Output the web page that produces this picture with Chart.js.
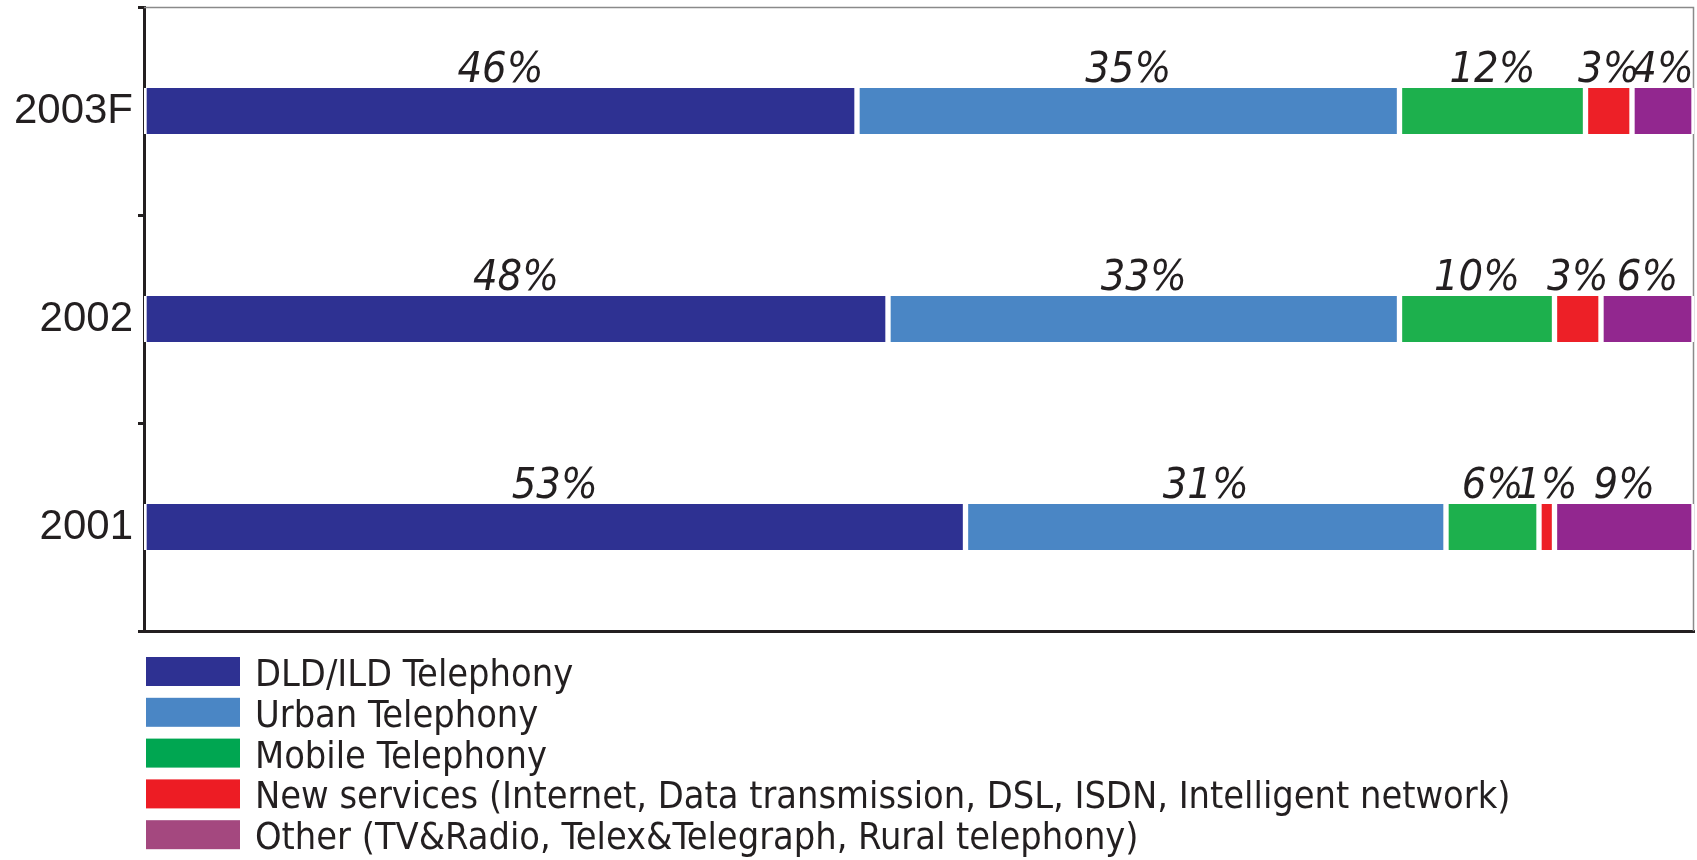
<!DOCTYPE html>
<html>
<head>
<meta charset="utf-8">
<script src="https://cdn.jsdelivr.net/npm/chart.js@4.4.0/dist/chart.umd.min.js"></script>
<style>
  html, body { margin: 0; padding: 0; background: #fff; }
  #wrap { width: 1697px; height: 860px; }
</style>
</head>
<body>
<div id="wrap"><canvas id="c" width="1697" height="860"></canvas></div>
<script>
const categories = ['2003F', '2002', '2001'];
const seriesNames = [
  'DLD/ILD Telephony',
  'Urban Telephony',
  'Mobile Telephony',
  'New services (Internet, Data transmission, DSL, ISDN, Intelligent network)',
  'Other (TV&Radio, Telex&Telegraph, Rural telephony)'
];
const dldIld = [46, 48, 53];
const urban = [35, 33, 31];
const mobile = [12, 10, 6];
const newServices = [3, 3, 1];
const other = [4, 6, 9];
const barColors = ['#2E3192', '#4A86C5', '#1DB04D', '#ED2027', '#92278F'];
const legendColors = ['#2E3192', '#4A86C5', '#00A651', '#ED1C24', '#A4487F'];

const TEXT = '#231F20';
const COND = '"DejaVu Sans Condensed", "DejaVu Sans", sans-serif';
const SANS = '"Liberation Sans", Arial, sans-serif';

const seriesValues = [dldIld, urban, mobile, newServices, other];

const labelPlugin = {
  id: 'pctLabels',
  afterDatasetsDraw(chart) {
    const ctx = chart.ctx;
    ctx.save();
    ctx.fillStyle = TEXT;
    ctx.font = 'italic 43px ' + COND;
    ctx.textAlign = 'center';
    ctx.textBaseline = 'alphabetic';
    chart.data.datasets.forEach((ds, di) => {
      const meta = chart.getDatasetMeta(di);
      meta.data.forEach((el, i) => {
        const p = el.getProps(['x', 'y', 'base', 'height'], true);
        const cx = (p.x + p.base) / 2;
        const top = p.y - p.height / 2;
        ctx.fillText(ds.data[i] + '%', cx, top - 6);
      });
    });
    ctx.restore();
  }
};

const framePlugin = {
  id: 'frame',
  beforeDatasetsDraw(chart) {
    const a = chart.chartArea;
    const ctx = chart.ctx;
    ctx.save();
    ctx.strokeStyle = '#8a8a8a';
    ctx.lineWidth = 1.5;
    ctx.beginPath();
    ctx.moveTo(a.left, a.top + 0.5);
    ctx.lineTo(a.right - 0.5, a.top + 0.5);
    ctx.lineTo(a.right - 0.5, a.bottom);
    ctx.stroke();
    ctx.restore();
  }
};

const legendPlugin = {
  id: 'customLegend',
  afterDraw(chart) {
    const ctx = chart.ctx;
    const a = chart.chartArea;
    ctx.save();
    ctx.font = '37.6px ' + COND;
    ctx.textAlign = 'left';
    ctx.textBaseline = 'alphabetic';
    const startY = a.bottom + 26;
    const step = 40.8;
    chart.data.datasets.forEach((ds, i) => {
      const y = startY + i * step;
      ctx.fillStyle = legendColors[i];
      ctx.fillRect(a.left + 2, y, 94, 29);
      ctx.fillStyle = TEXT;
      ctx.fillText(ds.label, a.left + 111, y + 29);
    });
    ctx.restore();
  }
};

new Chart(document.getElementById('c'), {
  type: 'bar',
  data: {
    labels: categories,
    datasets: seriesNames.map((name, i) => ({
      label: name,
      data: seriesValues[i],
      backgroundColor: barColors[i],
      borderColor: '#ffffff',
      borderWidth: { left: 3, right: 3, top: 0, bottom: 0 },
      borderSkipped: false,
      barThickness: 46
    }))
  },
  options: {
    indexAxis: 'y',
    responsive: false,
    animation: false,
    layout: { padding: { left: 0, top: 7, right: 3, bottom: 229 } },
    plugins: {
      legend: { display: false },
      tooltip: { enabled: false }
    },
    scales: {
      x: {
        stacked: true,
        min: 0,
        max: 100,
        ticks: { display: false },
        grid: { display: false },
        border: { display: true, color: TEXT, width: 3 },
        afterFit(s) { s.height = 0; s.paddingLeft = 0; s.paddingRight = 0; }
      },
      y: {
        stacked: true,
        offset: true,
        ticks: {
          color: TEXT,
          font: { family: SANS, size: 42 },
          padding: 5
        },
        grid: {
          offset: true,
          drawOnChartArea: false,
          drawTicks: true,
          tickLength: 6,
          lineWidth: 3,
          color: TEXT
        },
        border: { display: true, color: TEXT, width: 3 },
        afterFit(s) { s.width = 144; s.paddingTop = 0; s.paddingBottom = 0; }
      }
    }
  },
  plugins: [framePlugin, labelPlugin, legendPlugin]
});
</script>
</body>
</html>
